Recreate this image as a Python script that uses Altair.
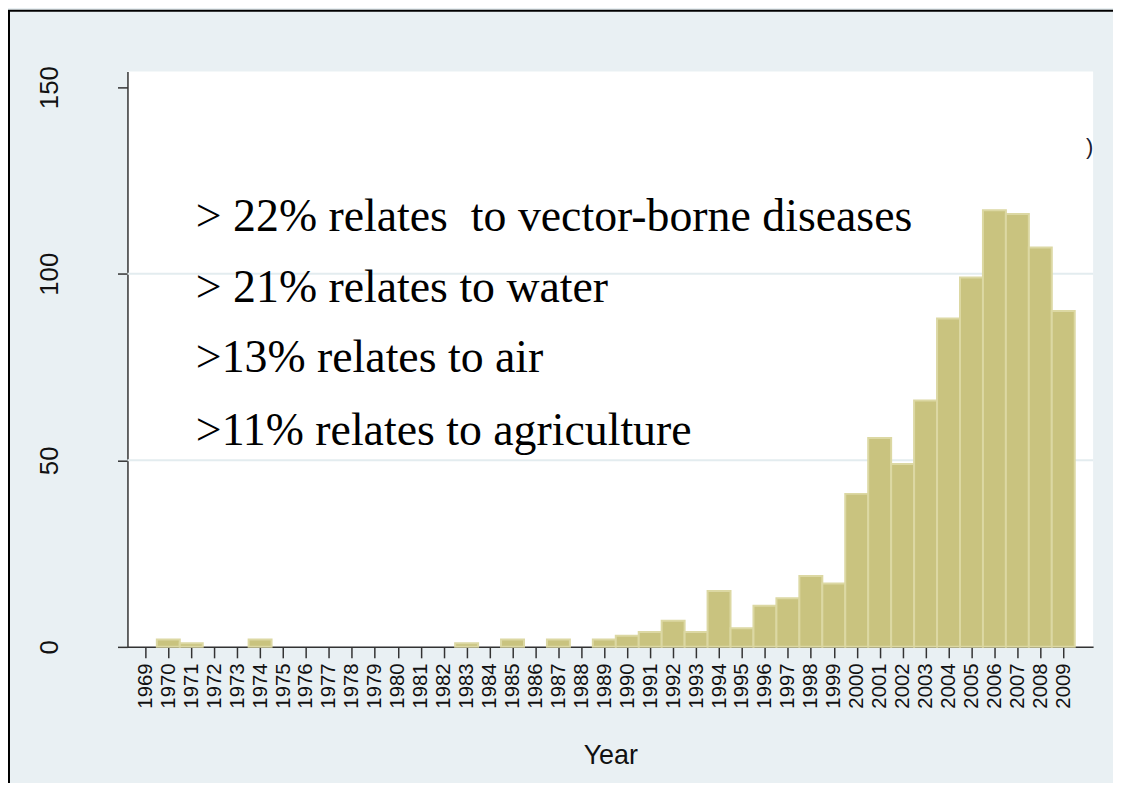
import altair as alt
import pandas as pd

years = list(range(1969, 2010))
counts = [0, 2, 1, 0, 0, 2, 0, 0, 0, 0, 0, 0, 0, 0, 1, 0, 2, 0, 2, 0,
          2, 3, 4, 7, 4, 15, 5, 11, 13, 19, 17,
          41, 56, 49, 66, 88, 99, 117, 116, 107, 90]
y_ticks = [0, 50, 100, 150]
grid_values = [50, 100]
notes = ["> 22% relates\u00a0 to vector-borne diseases",
         "> 21% relates to water",
         ">13% relates to air",
         ">11% relates to agriculture"]
note_x = [1971.2, 1971.2, 1971.2, 1971.2]
note_y = [111.5, 92.3, 73.6, 54.2]

df = pd.DataFrame({"year": years, "count": counts})
df = df[df["count"] > 0].copy()
df["x0"] = df["year"] - 0.5
df["x1"] = df["year"] + 0.5

notes_df = pd.DataFrame({"x": note_x, "y": note_y, "t": notes})
grid_df = pd.DataFrame({"v": grid_values})
mark_df = pd.DataFrame({"x": [2010.15], "y": [134], "t": [")"]})

xs = alt.Scale(domain=[1968.22, 2010.3], nice=False, zero=False)
ys = alt.Scale(domain=[0, 154.2], nice=False, zero=True)

x_axis = alt.Axis(
    values=years, labelAngle=-90, labelFontSize=20.5, labelPadding=5,
    labelFont="Liberation Sans", labelColor="#111", labelFlush=False,
    labelOverlap=False, format="d", title="Year", titleFontSize=27,
    titleFont="Liberation Sans", titleFontWeight="normal", titleColor="#111",
    titlePadding=35, grid=False, tickSize=11, tickWidth=1.5,
    domainWidth=1.5, domainColor="#333", tickColor="#333")
y_axis = alt.Axis(
    values=y_ticks, labelAngle=-90, labelFontSize=26, labelPadding=55,
    labelFont="Liberation Sans", labelColor="#111", title=None, grid=False,
    tickSize=10, tickWidth=1.5, domainWidth=1.5, domainColor="#333",
    tickColor="#333")

grid = alt.Chart(grid_df).mark_rule(color="#e3ecef", strokeWidth=2).encode(
    y=alt.Y("v:Q", scale=ys, axis=y_axis, title=None),
    x=alt.value(0), x2=alt.value(970),
)

bars = alt.Chart(df).mark_rect(fill="#c9c37f", stroke="#dcd8a3", strokeWidth=2).encode(
    x=alt.X("x0:Q", scale=xs, axis=x_axis, title="Year"),
    x2="x1:Q",
    y=alt.Y("count:Q", scale=ys, axis=y_axis, title=None),
    y2=alt.datum(0),
)

text = alt.Chart(notes_df).mark_text(
    align="left", baseline="alphabetic", font="Liberation Serif",
    fontSize=46, color="#000").encode(
    x=alt.X("x:Q", scale=xs, axis=x_axis, title="Year"),
    y=alt.Y("y:Q", scale=ys, axis=y_axis, title=None),
    text="t:N",
)

stray = alt.Chart(mark_df).mark_text(
    align="center", baseline="middle", font="Liberation Sans",
    fontSize=22, color="#1a2030").encode(
    x=alt.X("x:Q", scale=xs, axis=x_axis, title="Year"),
    y=alt.Y("y:Q", scale=ys, axis=y_axis, title=None),
    text="t:N",
)

frame_left = alt.Chart(grid_df.head(1)).mark_rule(color="#000", strokeWidth=2).encode(
    x=alt.value(-119), y=alt.value(-61), y2=alt.value(730))
frame_top = alt.Chart(grid_df.head(1)).mark_rule(color="#000", strokeWidth=2).encode(
    x=alt.value(-120), x2=alt.value(1000), y=alt.value(-61))

chart = alt.layer(grid, bars, text, stray, frame_left, frame_top).properties(
    width=970, height=578,
    autosize=alt.AutoSizeParams(type="none"),
    padding={"left": 120, "top": 62, "right": 20, "bottom": 135},
    background="#e9f0f3",
).configure_view(stroke=None, fill="#ffffff")

chart.save("out.html", embed_options={"renderer": "svg", "actions": False})
